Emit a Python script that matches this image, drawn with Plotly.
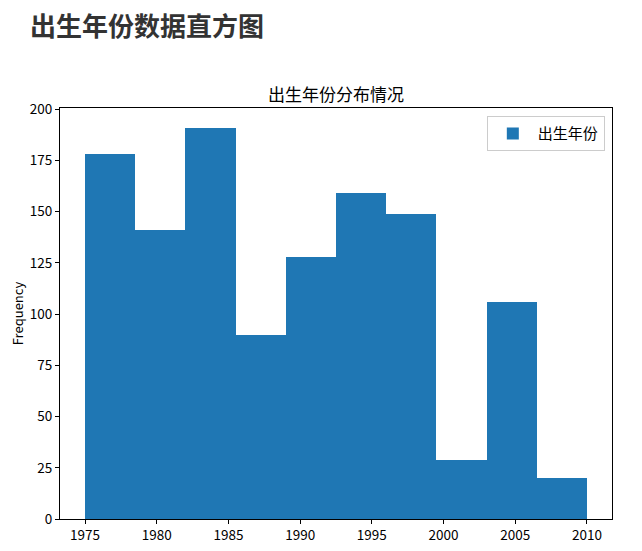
import plotly.graph_objects as go

bin_starts = [1975.0, 1978.5, 1982.0, 1985.5, 1989.0, 1992.5, 1996.0, 1999.5, 2003.0, 2006.5]
bin_width = 3.5
counts = [178, 141, 191, 90, 128, 159, 149, 29, 106, 20]
x_ticks = [1975, 1980, 1985, 1990, 1995, 2000, 2005, 2010]
y_ticks = [0, 25, 50, 75, 100, 125, 150, 175, 200]

FONT = "Noto Sans CJK SC"
W, H = 626, 535

fig = go.Figure()
fig.add_trace(go.Bar(
    x=bin_starts, y=counts, width=[bin_width] * len(counts), offset=0,
    marker=dict(color="#1f77b4", line=dict(width=0)),
    name="出生年份", showlegend=True,
))

fig.update_layout(
    width=W, height=H,
    margin=dict(l=52, r=22, t=100, b=24),
    paper_bgcolor="white", plot_bgcolor="white",
    font=dict(family=FONT, size=12, color="black"),
    bargap=0,
    annotations=[
        dict(text="<b>出生年份数据直方图</b>", xref="paper", yref="paper",
             x=-32/552, xanchor="left", y=1, yshift=100 - 16, yanchor="middle",
             showarrow=False, font=dict(family=FONT, size=26, color="#333333")),
        dict(text="出生年份分布情况", xref="paper", yref="paper",
             x=0.5, y=1, yshift=15, yanchor="middle", showarrow=False,
             font=dict(family=FONT, size=17, color="black")),
    ],
    legend=dict(x=0.987, xanchor="right", y=0.98, yanchor="top",
                bordercolor="#cccccc", borderwidth=1, bgcolor="white",
                itemwidth=40, tracegroupgap=0,
                font=dict(family=FONT, size=15)),
    xaxis=dict(range=[1973.25, 2011.75], tickvals=x_ticks, ticktext=[str(v) for v in x_ticks],
               showline=True, mirror=True, linecolor="black", linewidth=1,
               ticks="outside", ticklen=4, tickcolor="black", showgrid=False, zeroline=False,
               automargin=False, tickfont=dict(size=13.5)),
    yaxis=dict(range=[0, 200.55], tickvals=y_ticks,
               showline=True, mirror=True, linecolor="black", linewidth=1,
               ticks="outside", ticklen=4, tickcolor="black", showgrid=False, zeroline=False,
               automargin=False, tickfont=dict(size=13.5),
               title=dict(text="Frequency", standoff=6, font=dict(size=13))),
)

fig.write_html("out.html")
